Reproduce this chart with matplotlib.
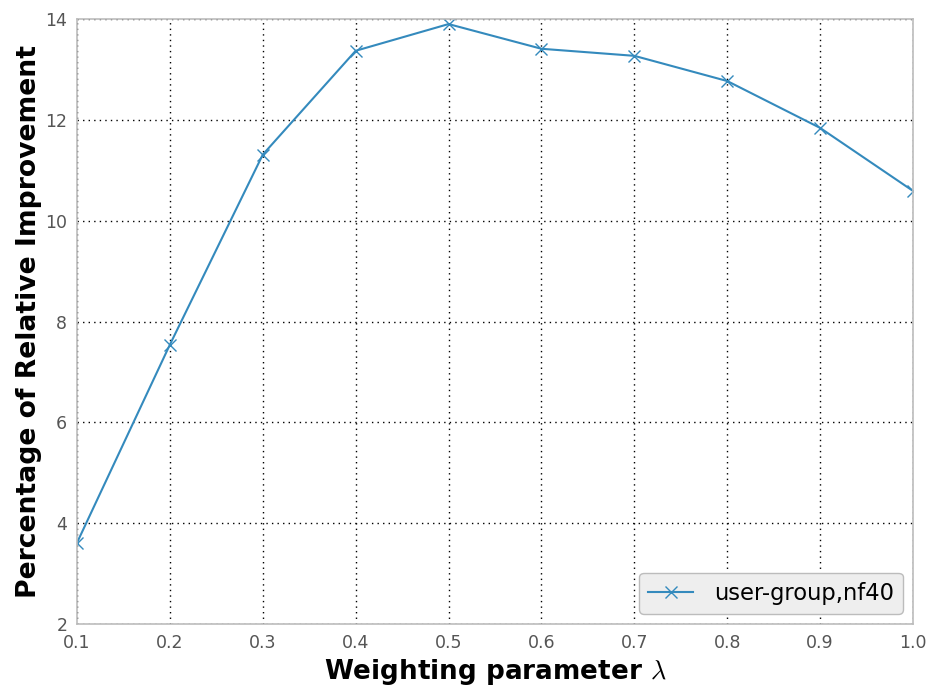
import matplotlib
matplotlib.use("Agg")
import matplotlib.pyplot as plt

lambdas = [0.1, 0.2, 0.3, 0.4, 0.5, 0.6, 0.7, 0.8, 0.9, 1.0]
improvement = [3.61, 7.54, 11.31, 13.37, 13.90, 13.41, 13.27, 12.77, 11.84, 10.59]
series_label = "user-group,nf40"
xticks = [0.1, 0.2, 0.3, 0.4, 0.5, 0.6, 0.7, 0.8, 0.9, 1.0]
yticks = [2, 4, 6, 8, 10, 12, 14]

plt.rcParams["mathtext.fontset"] = "cm"

fig = plt.figure(figsize=(9.33, 6.87), dpi=100)
ax = fig.add_axes([0.0825, 0.0917, 0.8961, 0.8806])
ax.plot(lambdas, improvement, color="#348ABD", marker="x", markersize=8,
        markeredgewidth=1.0, linewidth=1.5, label=series_label)
ax.set_xlim(0.1, 1.0)
ax.set_ylim(2, 14)
ax.set_xticks(xticks)
ax.set_xticklabels([f"{v:.1f}" for v in xticks])
ax.set_yticks(yticks)
ax.tick_params(length=0, labelsize=12.5, labelcolor="#555555", pad=7)
for s in ax.spines.values():
    s.set_color("#bcbcbc")
    s.set_linewidth(1.2)
ax.grid(True, color="black", linestyle=(0, (1, 3)), linewidth=1)
ax.set_axisbelow(True)
ax.set_xlabel(r"Weighting parameter $\lambda$", fontsize=18.9, fontweight="bold", labelpad=4)
ax.set_ylabel("Percentage of Relative Improvement", fontsize=19.2, fontweight="bold", labelpad=2)
leg = ax.legend(loc="lower right", fontsize=16.3, facecolor="#eeeeee", edgecolor="#bcbcbc",
                framealpha=1, fancybox=True, handlelength=2, borderaxespad=0.45,
                handletextpad=0.9)
fig.savefig("out.png", dpi=100)
